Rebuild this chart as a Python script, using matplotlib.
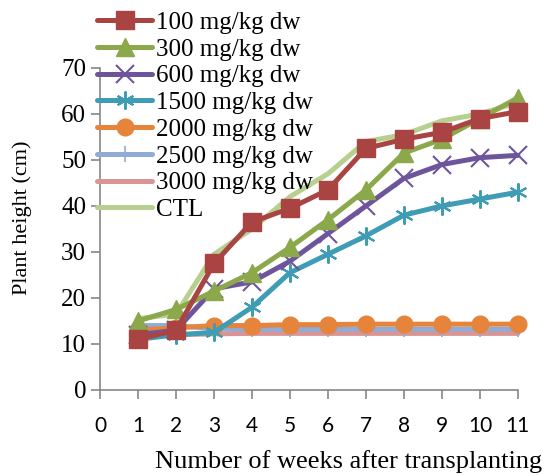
import matplotlib
matplotlib.use("Agg")
import matplotlib.pyplot as plt

# ============================
# Plant height vs weeks after transplanting
# ============================

plt.rcParams['font.family'] = ['Liberation Serif', 'DejaVu Serif']

weeks = [1, 2, 3, 4, 5, 6, 7, 8, 9, 10, 11]

h_100 = [11, 13, 27.5, 36.5, 39.5, 43.5, 52.5, 54.5, 56, 59, 60.5]
h_300 = [15, 17.5, 21.5, 25.5, 31, 37, 43.5, 51.5, 54.5, 59, 63.5]
h_600 = [12, 13, 22, 23.5, 28, 34, 40, 46, 49, 50.5, 51]
h_1500 = [11, 12, 12.5, 18, 25.5, 29.5, 33.5, 38, 40, 41.5, 43]
h_2000 = [13, 13.5, 14, 14, 14.2, 14.2, 14.3, 14.3, 14.3, 14.3, 14.3]
h_2500 = [14, 14, 13.3, 13.2, 13.2, 13.2, 13.2, 13.2, 13.2, 13.2, 13.2]
h_3000 = [11.5, 12, 12.2, 12.3, 12.3, 12.3, 12.3, 12.3, 12.3, 12.3, 12.3]
h_ctl = [15.5, 16.5, 29.5, 35, 42, 47, 54, 55.5, 58.5, 60, 62.5]

labels = ["100 mg/kg dw", "300 mg/kg dw", "600 mg/kg dw", "1500 mg/kg dw",
          "2000 mg/kg dw", "2500 mg/kg dw", "3000 mg/kg dw", "CTL"]

series = [h_100, h_300, h_600, h_1500, h_2000, h_2500, h_3000, h_ctl]

# (color, marker, markersize, marker edge width)
styles = [
    ("#A94442", "s", 13, 1),
    ("#8BA84A", "^", 13, 1),
    ("#6E559B", "x", 13, 1.5),
    ("#3E9CB5", (6, 2, 0), 13, 1.5),
    ("#E5843A", "o", 12, 1),
    ("#90ABD6", "|", 12, 1.2),
    ("#D99594", None, 0, 0),
    ("#B8D08F", None, 0, 0),
]

fig = plt.figure(figsize=(5.44, 4.75), dpi=100)
ax = fig.add_axes([0.184, 0.179, 0.768, 0.678])

order = [7, 6, 5, 4, 3, 2, 1, 0]
lines = {}
for i in order:
    color, marker, ms, mew = styles[i]
    ln, = ax.plot(weeks, series[i], color=color, lw=3.6, marker=marker,
                  markersize=ms, markeredgewidth=mew, markeredgecolor=color,
                  markerfacecolor=color, clip_on=False, label=labels[i],
                  solid_joinstyle="round", solid_capstyle="round")
    lines[i] = ln

ax.set_xlim(0, 11)
ax.set_ylim(0, 70)
ax.set_xticks(range(0, 12))
ax.set_yticks(range(0, 80, 10))

for side in ["top", "right"]:
    ax.spines[side].set_visible(False)
for side in ["left", "bottom"]:
    ax.spines[side].set_color("#868686")
    ax.spines[side].set_linewidth(1.2)
ax.tick_params(colors="#868686", labelcolor="black",
               length=6.5, width=1.2, direction="out")
ax.tick_params(axis="y", labelsize=18, pad=3.5)
ax.tick_params(axis="x", pad=12)
for lbl in ax.get_xticklabels():
    lbl.set_fontfamily(["Lato", "DejaVu Sans"])
    lbl.set_fontsize(15)

fig.text(22 / 544, 1 - 218 / 475, "Plant height (cm)", fontsize=16,
         rotation=90, ha="center", va="center")
fig.text(0.997, 1 - 462 / 475, "Number of weeks after transplanting",
         fontsize=19, ha="right", va="center")

fig.legend([lines[i] for i in range(8)], labels, loc="upper left",
           bbox_to_anchor=(0.16, 0.997), frameon=False, fontsize=18,
           handlelength=2.2, handletextpad=0.15, labelspacing=0.17,
           borderaxespad=0)

fig.savefig("out.png", dpi=100)
